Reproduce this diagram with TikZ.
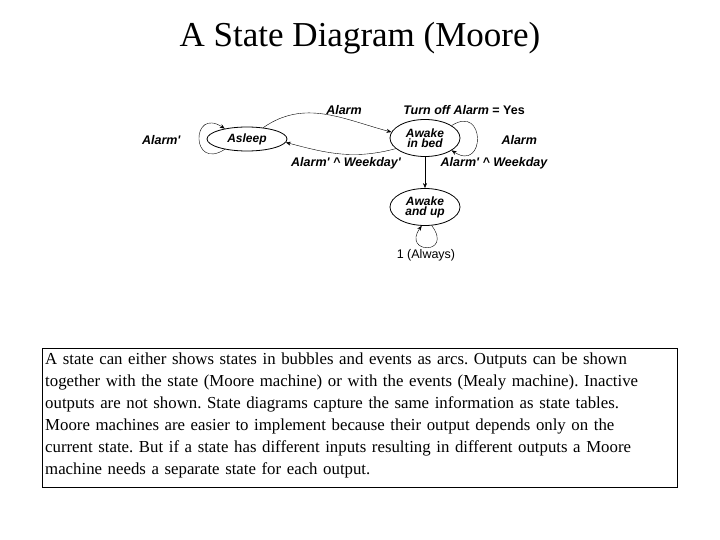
\documentclass[tikz,border=0pt]{standalone}
\usepackage{fontspec}
\setmainfont{Liberation Serif}
\newfontfamily\dsans{Liberation Sans}
\usetikzlibrary{shapes.geometric,arrows.meta}
\begin{document}
\frenchspacing
\begin{tikzpicture}[x=1pt,y=-1pt,
  st/.style={ellipse,draw,thick,inner sep=0pt,minimum width=70pt,minimum height=37pt,font=\dsans\itshape\bfseries\fontsize{12}{11}\selectfont,align=center},
  lab/.style={font=\dsans\itshape\bfseries\fontsize{12.5}{12}\selectfont},
  arr/.style={-{Stealth[length=5pt,width=4pt]},thin}]
\useasboundingbox (0,0) rectangle (720,540);
\node (title) at (360,38) {\fontsize{35}{35}\selectfont A State Diagram (Moore)};
\node[st,minimum width=80pt,minimum height=24pt] (asleep) at (247,139) {Asleep};
\node[st] (bed) at (425,138) {Awake\\[-1pt]in bed};
\node[st] (up) at (425,207) {Awake\\[-1pt]and up};
\draw[arr] (asleep.35) to[out=35,in=165] (bed.170);
\draw[arr] (bed.200) to[out=-165,in=-15] (asleep.-5);
\draw[arr] (bed.south) -- (up.north);
\draw[arr] (asleep.205) .. controls +(-34,22) and +(-34,-22) .. (asleep.155);
\draw[arr] (bed.25) .. controls +(34,-22) and +(34,22) .. (bed.-25);
\draw[arr] (up.-70) .. controls +(22,30) and +(-20,28) .. (up.-100);
\node[lab] (l1) at (344,110) {Alarm};
\node[lab] (l2) at (464,110) {Turn off Alarm {\upshape=} \upshape Yes};
\node[lab,anchor=east] (l3) at (184,140) {Alarm'};
\node[lab,anchor=west] (l4) at (498,140) {Alarm};
\node[lab] (l5) at (346,163) {Alarm' \^{} Weekday'};
\node[lab] (l6) at (494,163) {Alarm' \^{} Weekday};
\node[lab] (l7) at (426,255) {\upshape\mdseries 1 (Always)};
\node[draw,thin,anchor=north west,minimum width=635pt,minimum height=139pt,inner sep=0pt] (box) at (42,348) {};
\node[anchor=north west,text width=630pt,align=left,inner sep=0pt,font=\fontsize{16.8}{22}\selectfont] (txt) at (45,353) {A state can either shows states in bubbles and events as arcs. Outputs can be shown\\ together with the state (Moore machine) or with the events (Mealy machine). Inactive\\ outputs are not shown. State diagrams capture the same information as state tables.\\ Moore machines are easier to implement because their output depends only on the\\ current state. But if a state has different inputs resulting in different outputs a Moore\\ machine needs a separate state for each output.};
\end{tikzpicture}
\end{document}
